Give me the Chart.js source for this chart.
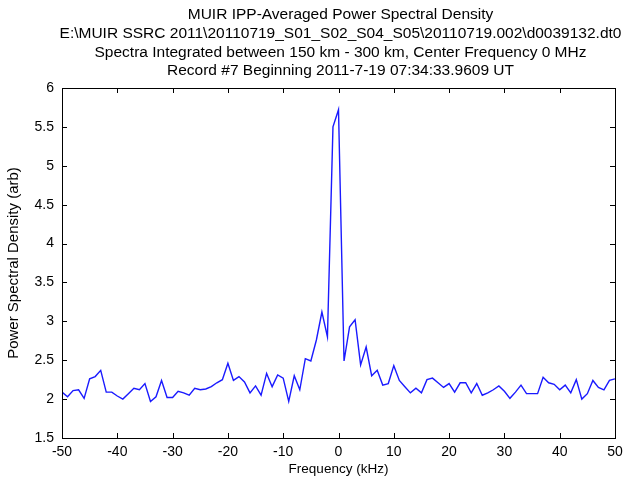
<!DOCTYPE html>
<html>
<head>
<meta charset="utf-8">
<script src="https://cdn.jsdelivr.net/npm/chart.js@4.4.0/dist/chart.umd.min.js"></script>
<style>
  html,body{margin:0;padding:0;background:#fff;}
  #wrap{width:635px;height:483px;position:relative;}
</style>
</head>
<body>
<div id="wrap"><canvas id="psdChart"></canvas></div>
<script>
// MUIR IPP-averaged power spectral density
const freqKHz = [
  -50,-49,-48,-47,-46,-45,-44,-43,-42,-41,
  -40,-39,-38,-37,-36,-35,-34,-33,-32,-31,
  -30,-29,-28,-27,-26,-25,-24,-23,-22,-21,
  -20,-19,-18,-17,-16,-15,-14,-13,-12,-11,
  -10,-9,-8,-7,-6,-5,-4,-3,-2,-1,
  0,1,2,3,4,5,6,7,8,9,
  10,11,12,13,14,15,16,17,18,19,
  20,21,22,23,24,25,26,27,28,29,
  30,31,32,33,34,35,36,37,38,39,
  40,41,42,43,44,45,46,47,48,49,
  50
];
const psdValues = [
  2.09,2.03,2.11,2.12,2.01,2.26,2.29,2.37,2.09,2.09,
  2.04,2.00,2.07,2.14,2.12,2.20,1.97,2.03,2.24,2.02,
  2.02,2.10,2.08,2.05,2.14,2.12,2.13,2.16,2.21,2.25,
  2.46,2.24,2.29,2.22,2.08,2.17,2.05,2.33,2.16,2.31,
  2.27,1.97,2.30,2.12,2.52,2.49,2.76,3.12,2.80,5.50,
  5.72,2.49,2.93,3.02,2.44,2.67,2.30,2.37,2.18,2.20,
  2.43,2.24,2.16,2.08,2.14,2.08,2.25,2.27,2.21,2.15,
  2.20,2.09,2.21,2.21,2.08,2.20,2.05,2.08,2.12,2.17,
  2.10,2.01,2.09,2.18,2.07,2.07,2.07,2.28,2.21,2.19,
  2.12,2.18,2.08,2.25,2.00,2.07,2.24,2.15,2.12,2.24,
  2.26
];
const xTicks = [-50,-40,-30,-20,-10,0,10,20,30,40,50];
const yTicks = [1.5,2,2.5,3,3.5,4,4.5,5,5.5,6];
const headerLines = [
  'MUIR IPP-Averaged Power Spectral Density',
  'E:\\MUIR SSRC 2011\\20110719_S01_S02_S04_S05\\20110719.002\\d0039132.dt0',
  'Spectra Integrated between 150 km - 300 km, Center Frequency 0 MHz',
  'Record #7 Beginning 2011-7-19 07:34:33.9609 UT'
];

const FONT = '"Liberation Sans", Arial, sans-serif';

// header text centred over the axes box (matlab style)
const header = {
  id:'header',
  afterDraw(chart){
    const {ctx, chartArea:a} = chart;
    ctx.save();
    ctx.fillStyle = '#000';
    ctx.font = '15.5px ' + FONT;
    ctx.textAlign = 'center';
    ctx.textBaseline = 'middle';
    const cx = (a.left + a.right) / 2 + 2;
    headerLines.forEach((t,i)=> ctx.fillText(t, cx, 15 + i*18.7));
    ctx.restore();
  }
};

// box + inward ticks on all four sides
const frame = {
  id:'frame',
  afterDatasetsDraw(chart){
    const {ctx, chartArea:a, scales:{x,y}} = chart;
    const len = 5;
    ctx.save();
    ctx.strokeStyle = '#000';
    ctx.lineWidth = 1;
    ctx.strokeRect(Math.round(a.left)+0.5, Math.round(a.top)+0.5, Math.round(a.right-a.left), Math.round(a.bottom-a.top));
    ctx.beginPath();
    xTicks.forEach(v=>{
      const px = Math.round(x.getPixelForValue(v)) + 0.5;
      ctx.moveTo(px, a.bottom); ctx.lineTo(px, a.bottom - len);
      ctx.moveTo(px, a.top); ctx.lineTo(px, a.top + len);
    });
    yTicks.forEach(v=>{
      const py = Math.round(y.getPixelForValue(v)) + 0.5;
      ctx.moveTo(a.left, py); ctx.lineTo(a.left + len, py);
      ctx.moveTo(a.right, py); ctx.lineTo(a.right - len, py);
    });
    ctx.stroke();
    ctx.restore();
  }
};

const points = freqKHz.map((f,i)=>({x:f, y:psdValues[i]}));

new Chart(document.getElementById('psdChart'), {
  type:'line',
  data:{
    datasets:[{
      data: points,
      borderColor:'#1a1aff',
      borderWidth:1.4,
      pointRadius:0,
      tension:0,
      fill:false
    }]
  },
  options:{
    responsive:true,
    maintainAspectRatio:false,
    animation:false,
    layout:{ padding:{ top:88, right:20, left:0, bottom:0 } },
    plugins:{ legend:{display:false}, tooltip:{enabled:false}, title:{display:false} },
    scales:{
      x:{
        type:'linear',
        min:-50, max:50,
        afterBuildTicks:(s)=>{ s.ticks = xTicks.map(v=>({value:v})); },
        afterFit:(s)=>{ s.height = 45; },
        grid:{display:false, drawTicks:false},
        border:{display:false},
        ticks:{ color:'#000', font:{family:FONT, size:14}, padding:6, maxRotation:0,
                callback:(v)=>String(v) },
        title:{ display:true, text:'Frequency (kHz)', color:'#000',
                font:{family:FONT, size:13.5}, padding:{top:0, bottom:6} }
      },
      y:{
        type:'linear',
        min:1.5, max:6,
        afterBuildTicks:(s)=>{ s.ticks = yTicks.map(v=>({value:v})); },
        afterFit:(s)=>{ s.width = 62; },
        grid:{display:false, drawTicks:false},
        border:{display:false},
        ticks:{ color:'#000', font:{family:FONT, size:14}, padding:8,
                callback:(v)=>String(v) },
        title:{ display:true, text:'Power Spectral Density (arb)', color:'#000',
                font:{family:FONT, size:15}, padding:{top:5, bottom:0} }
      }
    }
  },
  plugins:[header, frame]
});
</script>
</body>
</html>
